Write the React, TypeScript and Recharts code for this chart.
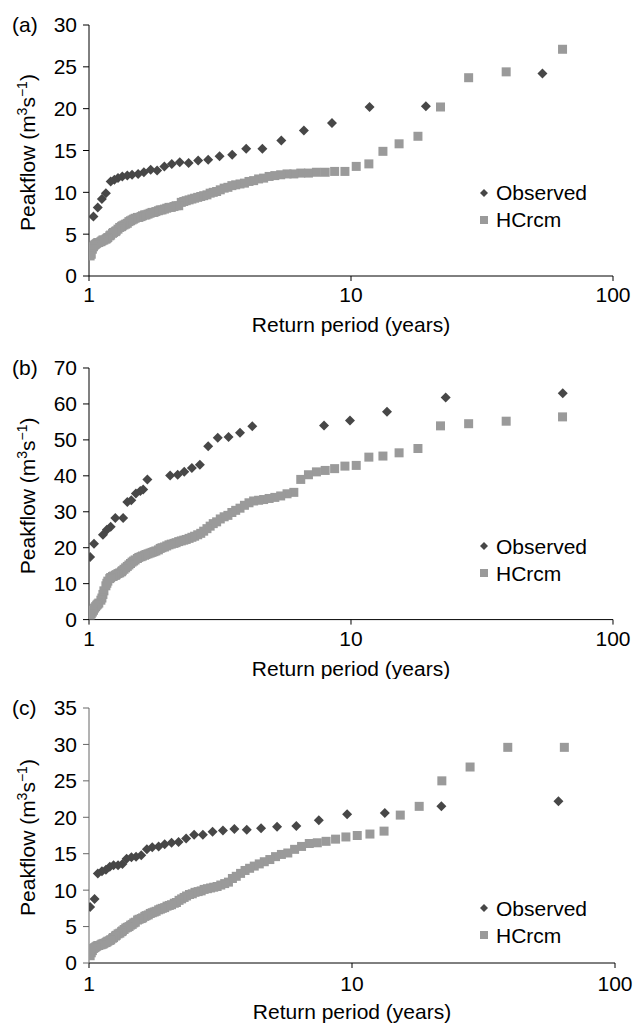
import { Legend, Scatter, ScatterChart, XAxis, YAxis } from "recharts";

const FONT = '"Liberation Sans", Arial, Helvetica, sans-serif';
const FS = 21;
const OBS_COLOR = "#474747";
const HC_COLOR = "#9a9a9a";

// return periods (years) of the HCrcm ranks 2..100 (rank 1 sits beyond 100 yr)
const hcrcmReturnPeriod = [
  64.18, 39.11, 28.12, 21.96, 18.01, 15.26, 13.24, 11.7, 10.47, 9.48,
  8.66, 7.97, 7.38, 6.88, 6.43, 6.05, 5.7, 5.39, 5.12, 4.87,
  4.64, 4.44, 4.25, 4.08, 3.92, 3.77, 3.63, 3.51, 3.39, 3.28,
  3.17, 3.07, 2.98, 2.9, 2.82, 2.74, 2.67, 2.6, 2.53, 2.47,
  2.41, 2.35, 2.3, 2.25, 2.2, 2.15, 2.11, 2.06, 2.02, 1.98,
  1.94, 1.9, 1.87, 1.84, 1.8, 1.77, 1.74, 1.71, 1.68, 1.65,
  1.63, 1.6, 1.58, 1.55, 1.53, 1.5, 1.48, 1.46, 1.44, 1.42,
  1.4, 1.38, 1.36, 1.34, 1.33, 1.31, 1.29, 1.27, 1.26, 1.24,
  1.23, 1.21, 1.2, 1.18, 1.17, 1.16, 1.14, 1.13, 1.12, 1.11,
  1.09, 1.08, 1.07, 1.06, 1.05, 1.04, 1.03, 1.02, 1.01,
];

const hcrcmA = [
  27.1, 24.4, 23.7, 20.2, 16.7, 15.8, 14.9, 13.4, 13.1, 12.5,
  12.5, 12.4, 12.4, 12.3, 12.3, 12.2, 12.2, 12.1, 12.0, 11.9,
  11.7, 11.6, 11.4, 11.3, 11.1, 11.0, 10.9, 10.8, 10.6, 10.5,
  10.3, 10.1, 10.0, 9.9, 9.7, 9.6, 9.5, 9.4, 9.3, 9.2,
  9.1, 9.0, 8.9, 8.8, 8.4, 8.4, 8.3, 8.2, 8.2, 8.1,
  8.0, 7.9, 7.9, 7.8, 7.7, 7.6, 7.6, 7.5, 7.4, 7.3,
  7.3, 7.2, 7.1, 7.0, 7.0, 6.9, 6.8, 6.7, 6.6, 6.5,
  6.3, 6.2, 6.1, 6.0, 5.9, 5.8, 5.6, 5.4, 5.3, 5.2,
  5.1, 4.9, 4.8, 4.6, 4.5, 4.4, 4.3, 4.3, 4.2, 4.1,
  4.0, 4.0, 3.9, 3.8, 3.7, 3.5, 3.2, 2.6, 2.4,
];

const hcrcmB = [
  56.4, 55.2, 54.5, 53.9, 47.6, 46.4, 45.5, 45.2, 42.9, 42.7,
  42.0, 41.5, 41.1, 40.3, 39.0, 35.4, 35.0, 34.4, 34.0, 33.7,
  33.4, 33.2, 33.0, 32.5, 31.8, 31.0, 30.4, 29.8, 29.0, 28.6,
  28.0, 27.2, 26.7, 26.0, 25.3, 24.6, 24.0, 23.6, 23.2, 22.9,
  22.6, 22.3, 22.1, 21.9, 21.7, 21.4, 21.2, 21.0, 20.8, 20.5,
  20.2, 20.0, 19.8, 19.4, 19.1, 18.9, 18.7, 18.5, 18.3, 18.1,
  17.9, 17.7, 17.5, 17.3, 17.0, 16.6, 16.3, 16.0, 15.6, 15.2,
  14.8, 14.4, 14.0, 13.6, 13.3, 13.0, 12.8, 12.5, 12.3, 12.1,
  12.0, 11.7, 11.4, 10.7, 10.1, 9.4, 8.0, 7.0, 6.0, 5.4,
  4.6, 4.3, 4.0, 3.6, 3.2, 2.6, 2.1, 1.6, 1.0,
];

const hcrcmC = [
  29.6, 29.6, 26.9, 25.0, 21.5, 20.3, 18.1, 17.7, 17.5, 17.3,
  17.0, 16.7, 16.5, 16.4, 16.0, 15.6, 15.1, 14.9, 14.6, 14.2,
  13.9, 13.6, 13.3, 13.0, 12.7, 12.3, 11.9, 11.6, 11.1, 10.9,
  10.7, 10.5, 10.4, 10.3, 10.2, 10.1, 9.9, 9.8, 9.7, 9.5,
  9.4, 9.2, 9.0, 8.8, 8.6, 8.3, 8.2, 8.0, 7.9, 7.8,
  7.6, 7.5, 7.4, 7.3, 7.1, 7.0, 6.9, 6.8, 6.6, 6.5,
  6.4, 6.2, 6.1, 6.0, 5.9, 5.6, 5.5, 5.3, 5.2, 5.0,
  4.9, 4.8, 4.6, 4.4, 4.3, 4.1, 4.0, 3.8, 3.7, 3.5,
  3.4, 3.2, 3.1, 3.0, 2.9, 2.8, 2.7, 2.6, 2.6, 2.5,
  2.4, 2.4, 2.3, 2.2, 2.1, 2.0, 1.7, 1.4, 1.0,
];

const observedA_T = [
  53.79, 19.31, 11.77, 8.46, 6.61, 5.42, 4.59, 3.98, 3.52, 3.15,
  2.85, 2.61, 2.4, 2.22, 2.07, 1.94, 1.82, 1.72, 1.62, 1.54,
  1.46, 1.4, 1.34, 1.29, 1.25, 1.21, 1.16, 1.12, 1.08, 1.04,
];
const observedA = [
  24.2, 20.3, 20.2, 18.3, 17.4, 16.2, 15.2, 15.2, 14.5, 14.3,
  13.9, 13.8, 13.5, 13.6, 13.4, 13.1, 12.6, 12.7, 12.4, 12.2,
  12.1, 12.0, 11.9, 11.7, 11.5, 11.3, 9.9, 9.2, 8.2, 7.1,
];

const observedB_T = [
  64.3, 22.98, 13.72, 9.91, 7.89, 4.2, 3.77, 3.41, 3.1, 2.85,
  2.65, 2.47, 2.31, 2.18, 2.04, 1.67, 1.61, 1.57, 1.51, 1.45,
  1.4, 1.35, 1.26, 1.21, 1.17, 1.13, 1.045, 1.01,
];
const observedB = [
  63.0, 61.8, 57.8, 55.4, 54.0, 53.8, 52.0, 50.8, 50.6, 48.2,
  43.1, 42.2, 41.1, 40.3, 40.1, 39.0, 36.2, 35.8, 35.1, 33.2,
  32.7, 28.3, 28.3, 25.8, 25.0, 23.6, 21.1, 17.4,
];

const observedC_T = [
  60.93, 21.87, 13.33, 9.58, 7.48, 6.14, 5.19, 4.51, 3.98, 3.57,
  3.23, 2.95, 2.71, 2.51, 2.34, 2.19, 2.06, 1.94, 1.84, 1.74,
  1.66, 1.58, 1.51, 1.45, 1.39, 1.34, 1.29, 1.24, 1.2, 1.16,
  1.12, 1.08, 1.05, 1.01,
];
const observedC = [
  22.2, 21.5, 20.6, 20.4, 19.6, 18.8, 18.7, 18.5, 18.3, 18.4,
  18.2, 18.0, 17.6, 17.6, 17.1, 16.6, 16.5, 16.3, 16.0, 15.9,
  15.6, 14.8, 14.6, 14.5, 14.3, 13.6, 13.4, 13.4, 13.2, 12.8,
  12.6, 12.3, 8.8, 7.7,
];

const xTicks = [1, 10, 100];
const yTicksA = [0, 5, 10, 15, 20, 25, 30];
const yTicksB = [0, 10, 20, 30, 40, 50, 60, 70];
const yTicksC = [0, 5, 10, 15, 20, 25, 30, 35];
const legendOrder = ["Observed", "HCrcm"];

const toPoints = (xs: number[], ys: number[]) =>
  xs.map((x, i) => ({ x, y: ys[i] }));

function Diamond(props: any) {
  const { cx, cy } = props;
  const r = 5;
  return (
    <polygon
      points={`${cx},${cy - r} ${cx + r},${cy} ${cx},${cy + r} ${cx - r},${cy}`}
      fill={OBS_COLOR}
    />
  );
}

function Square(props: any) {
  const { cx, cy } = props;
  const s = 9;
  return <rect x={cx - s / 2} y={cy - s / 2} width={s} height={s} fill={HC_COLOR} />;
}

function LegendBox(props: any) {
  const payload = [...(props.payload || [])].sort(
    (a: any, b: any) => legendOrder.indexOf(a.value) - legendOrder.indexOf(b.value)
  );
  return (
    <div style={{ fontFamily: FONT, fontSize: FS, lineHeight: "27px", color: "#000" }}>
      {payload.map((entry: any) => (
        <div
          key={entry.value}
          style={{ display: "flex", alignItems: "center", height: 27, whiteSpace: "nowrap" }}
        >
          <svg width={12} height={12} style={{ display: "block" }}>
            {entry.value === "Observed" ? (
              <polygon points="6,2 10,6 6,10 2,6" fill={OBS_COLOR} />
            ) : (
              <rect x={2} y={2} width={8} height={8} fill={HC_COLOR} />
            )}
          </svg>
          <span style={{ marginLeft: 6 }}>{entry.value}</span>
        </div>
      ))}
    </div>
  );
}

type PanelProps = {
  letter: string;
  top: number;
  plotHeight: number;
  right: number;
  yMax: number;
  yTicks: number[];
  observed: { x: number; y: number }[];
  hcrcm: { x: number; y: number }[];
  legendTop: number;
  xTickMargin: number;
  yAxisColor: string;
};

function Panel({
  letter,
  top,
  plotHeight,
  right,
  yMax,
  yTicks,
  observed,
  hcrcm,
  legendTop,
  xTickMargin,
  yAxisColor,
}: PanelProps) {
  const marginTop = 25;
  const height = marginTop + plotHeight + 60;
  const plotBottom = marginTop + plotHeight;
  const plotCenterX = (89 + (634 - right)) / 2;

  const yLabel = () => (
    <g>
      <text x={12} y={marginTop + 7} fontSize={FS} fontFamily={FONT} fill="#000">
        {letter}
      </text>
      <text
        transform={`translate(35, ${marginTop + plotHeight / 2 + 2}) rotate(-90)`}
        textAnchor="middle"
        fontSize={FS}
        fontFamily={FONT}
        fill="#000"
      >
        Peakflow (m
        <tspan dy={-8} fontSize={14}>
          3
        </tspan>
        <tspan dy={8}>s</tspan>
        <tspan dy={-8} fontSize={14}>
          −1
        </tspan>
        <tspan dy={8}>)</tspan>
      </text>
    </g>
  );

  const xLabel = () => (
    <text
      x={plotCenterX}
      y={plotBottom + 56}
      textAnchor="middle"
      fontSize={FS}
      fontFamily={FONT}
      fill="#000"
    >
      Return period (years)
    </text>
  );

  return (
    <div style={{ position: "absolute", left: 0, top, width: 634, height }}>
      <ScatterChart
        width={634}
        height={height}
        margin={{ top: marginTop, right, bottom: 0, left: 0 }}
      >
        <XAxis
          type="number"
          dataKey="x"
          scale="log"
          domain={[1, 100]}
          ticks={xTicks}
          interval={0}
          allowDataOverflow
          height={60}
          tickSize={5}
          tickMargin={xTickMargin}
          stroke="#000"
          tick={{ fill: "#000", fontSize: FS, fontFamily: FONT }}
          label={{ content: xLabel }}
        />
        <YAxis
          type="number"
          dataKey="y"
          domain={[0, yMax]}
          ticks={yTicks}
          interval={0}
          allowDataOverflow
          width={89}
          tickSize={6}
          tickMargin={6}
          stroke={yAxisColor}
          tick={{ fill: "#000", fontSize: FS, fontFamily: FONT }}
          label={{ content: yLabel }}
        />
        <Legend
          layout="vertical"
          align="center"
          verticalAlign="middle"
          content={LegendBox}
          wrapperStyle={{ left: 478, top: legendTop, width: "auto", height: "auto" }}
        />
        <Scatter
          name="HCrcm"
          data={hcrcm}
          fill={HC_COLOR}
          shape={Square}
          isAnimationActive={false}
        />
        <Scatter
          name="Observed"
          data={observed}
          fill={OBS_COLOR}
          shape={Diamond}
          isAnimationActive={false}
        />
      </ScatterChart>
    </div>
  );
}

export default function App() {
  return (
    <div style={{ position: "absolute", left: 0, top: 0, width: 634, height: 1026, background: "#fff" }}>
      <Panel
        letter="(a)"
        top={0}
        plotHeight={251}
        right={21}
        yMax={30}
        yTicks={yTicksA}
        observed={toPoints(observedA_T, observedA)}
        hcrcm={toPoints(hcrcmReturnPeriod, hcrcmA)}
        legendTop={179}
        xTickMargin={6}
        yAxisColor="#000"
      />
      <Panel
        letter="(b)"
        top={342.7}
        plotHeight={251.6}
        right={21}
        yMax={70}
        yTicks={yTicksB}
        observed={toPoints(observedB_T, observedB)}
        hcrcm={toPoints(hcrcmReturnPeriod, hcrcmB)}
        legendTop={190}
        xTickMargin={6}
        yAxisColor="#000"
      />
      <Panel
        letter="(c)"
        top={682.7}
        plotHeight={255}
        right={19}
        yMax={35}
        yTicks={yTicksC}
        observed={toPoints(observedC_T, observedC)}
        hcrcm={toPoints(hcrcmReturnPeriod, hcrcmC)}
        legendTop={212}
        xTickMargin={8.5}
        yAxisColor="#666"
      />
    </div>
  );
}
